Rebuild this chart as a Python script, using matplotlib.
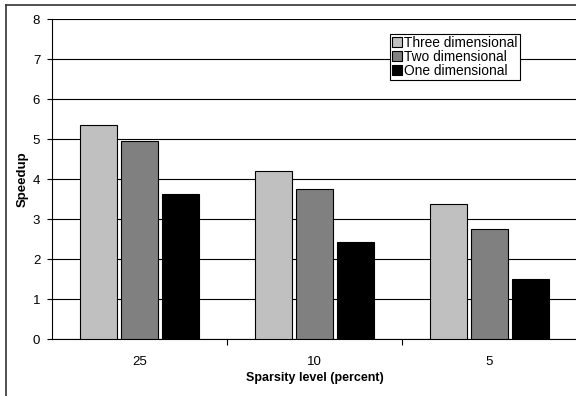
import matplotlib.pyplot as plt
import numpy as np
from matplotlib.lines import Line2D

plt.rcParams['font.family'] = ['Liberation Sans', 'DejaVu Sans']

# Speedup per sparsity level
levels = ["25", "10", "5"]
three_d = [5.35, 4.21, 3.38]
two_d = [4.95, 3.75, 2.74]
one_d = [3.62, 2.43, 1.50]

series = [("Three dimensional", three_d, "#c0c0c0"),
          ("Two dimensional", two_d, "#808080"),
          ("One dimensional", one_d, "#000000")]

fig = plt.figure(figsize=(5.76, 3.96), dpi=100)
ax = fig.add_axes([52/576, 57/396, 525/576, 320/396])

x = np.arange(len(levels))
w = 0.213
step = 0.234
for i, (name, vals, col) in enumerate(series):
    ax.bar(x + (i - 1)*step, vals, w, color=col, edgecolor="black",
           linewidth=0.8, label=name, zorder=3)

ax.set_xlim(-0.5, 2.5)
ax.set_ylim(0, 8)
ax.set_yticks(range(0, 9))
ax.yaxis.grid(True, color="black", linewidth=0.8, zorder=0)

# category ticks sit between groups, labels at the group centres
ax.set_xticks([0.5, 1.5])
ax.set_xticklabels([])
ax.set_xticks(x, minor=True)
ax.set_xticklabels(levels, minor=True, fontsize=9.5)
ax.tick_params(axis="x", which="minor", length=0, pad=12)
ax.tick_params(axis="x", which="major", length=4, direction="out", width=0.8)
ax.tick_params(axis="y", length=3.5, width=0.8, labelsize=9.5, pad=5)

for s in ["top", "right"]:
    ax.spines[s].set_visible(False)
for s in ["left", "bottom"]:
    ax.spines[s].set_linewidth(0.8)

ax.set_xlabel("Sparsity level (percent)", fontsize=9, fontweight="bold", labelpad=3)
ax.set_ylabel("Speedup", fontsize=9.5, fontweight="bold", labelpad=3)

leg = ax.legend(loc="upper left", bbox_to_anchor=(338/525, 1 - 15/320),
                fontsize=9.9, frameon=True, fancybox=False, edgecolor="black",
                framealpha=1, borderpad=0.15, labelspacing=0.0,
                handlelength=0.7, handleheight=0.7, handletextpad=0.2,
                borderaxespad=0)
leg.get_frame().set_linewidth(0.8)
leg.set_zorder(5)

# outer chart border
fig.add_artist(Line2D([6/576, 6/576], [0, 1 - 5/396], color="#333333", linewidth=1.2))
fig.add_artist(Line2D([6/576, 1], [1 - 5/396, 1 - 5/396], color="#333333", linewidth=1.2))

fig.savefig("out.png", dpi=100)
